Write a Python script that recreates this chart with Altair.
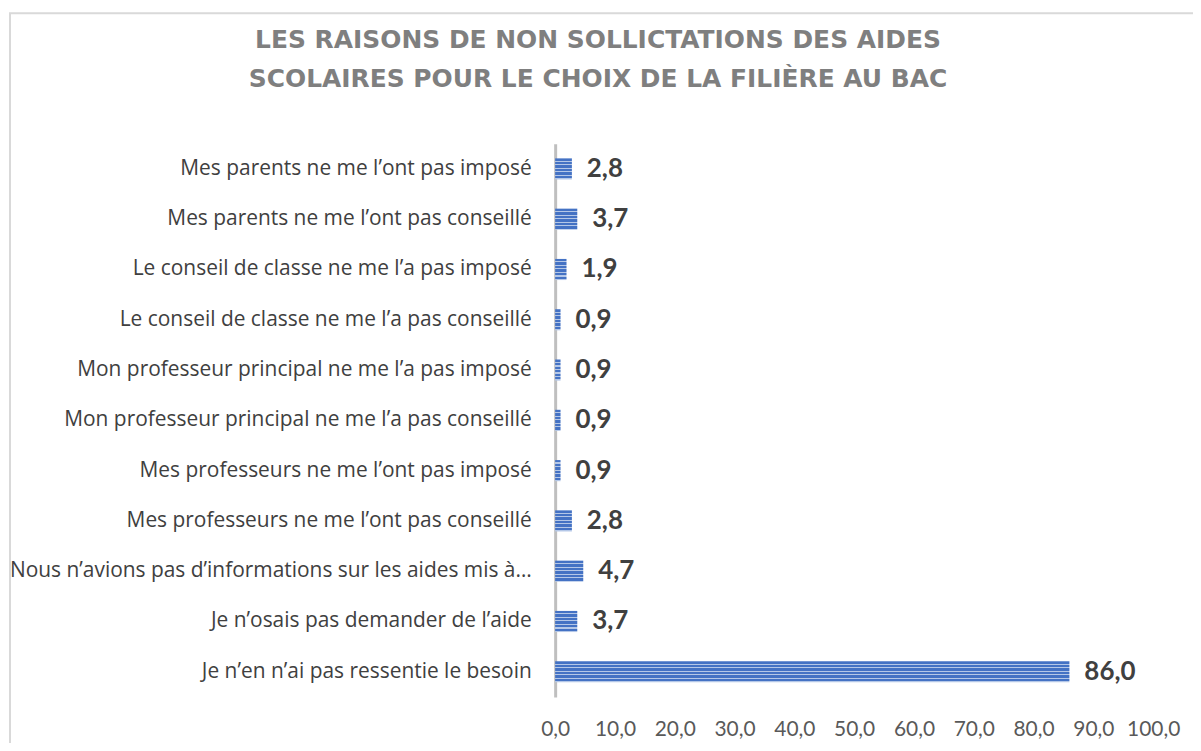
import altair as alt
import pandas as pd

categories = [
    "Mes parents ne me l’ont pas imposé",
    "Mes parents ne me l’ont pas conseillé",
    "Le conseil de classe ne me l’a pas imposé",
    "Le conseil de classe ne me l’a pas conseillé",
    "Mon professeur principal ne me l’a pas imposé",
    "Mon professeur principal ne me l’a pas conseillé\u00a0",
    "Mes professeurs ne me l’ont pas imposé",
    "Mes professeurs ne me l’ont pas conseillé",
    "Nous n’avions pas d’informations sur les aides mis à…",
    "Je n’osais pas demander de l’aide",
    "Je n’en n’ai pas ressentie le besoin",
]
values = [2.8, 3.7, 1.9, 0.9, 0.9, 0.9, 0.9, 2.8, 4.7, 3.7, 86.0]
x_ticks = [0, 10, 20, 30, 40, 50, 60, 70, 80, 90, 100]
title_lines = [
    "LES RAISONS DE NON SOLLICTATIONS DES AIDES",
    "SCOLAIRES POUR LE CHOIX DE LA FILIÈRE AU BAC",
]

df = pd.DataFrame({
    "cat": categories,
    "val": values,
    "lab": [f"{v:.1f}".replace(".", ",") for v in values],
})

FONT = "Lato"

# striped fill via a linear gradient with hard stops
dark, light = "#4472C4", "#B4C7E7"
n_stripes = 6
stops = []
for i in range(n_stripes):
    a = i / n_stripes
    b = (i + 0.68) / n_stripes
    c = (i + 1) / n_stripes
    stops += [
        {"offset": a, "color": dark},
        {"offset": b, "color": dark},
        {"offset": b, "color": light},
        {"offset": c, "color": light},
    ]
stripe = {"gradient": "linear", "x1": 0, "y1": 0, "x2": 0, "y2": 1, "stops": stops}

y_enc = alt.Y(
    "cat:N",
    sort=categories,
    title=None,
    scale=alt.Scale(paddingInner=0.58, paddingOuter=0.29),
    axis=alt.Axis(
        labelFont="Open Sans", labelFontSize=21, labelColor="#404040",
        labelPadding=24, labelLimit=700, ticks=False, tickSize=0,
        domainColor="#BFBFBF", domainWidth=3, grid=False,
    ),
)
x_enc = alt.X(
    "val:Q",
    title=None,
    scale=alt.Scale(domain=[0, 100], nice=False),
    axis=alt.Axis(
        values=x_ticks, labelExpr="replace(format(datum.value, '.1f'), '.', ',')",
        labelFont=FONT, labelFontSize=21, labelColor="#595959",
        labelPadding=22, ticks=False, tickSize=0, domain=False, grid=False,
        labelOverlap=False, labelFlush=False,
    ),
)

base = alt.Chart(df)

border = base.mark_rect(fill="transparent", stroke="#D9D9D9", strokeWidth=2).encode(
    x=alt.value(-547), x2=alt.value(800), y=alt.value(-131), y2=alt.value(800)
).transform_filter("datum.cat == '%s'" % categories[-1])

bars = base.mark_bar(color=stripe, strokeWidth=0).encode(x=x_enc, y=y_enc)

labels = base.mark_text(
    align="left", baseline="middle", dx=15, font=FONT, fontWeight="bold",
    fontSize=26, color="#404040",
).encode(x="val:Q", y=alt.Y("cat:N", sort=categories), text="lab:N")

chart = alt.layer(border, bars, labels).properties(
    width=600,
    height=555,
    autosize=alt.AutoSizeParams(type="none"),
    padding={"left": 549, "top": 135, "right": 40, "bottom": 45},
    background="white",
    title=alt.TitleParams(
        text=title_lines, anchor="middle", dx=-257, dy=135, offset=55,
        font="DejaVu Sans", fontSize=25, fontWeight="bold", color="#7F7F7F",
        lineHeight=39,
    ),
).configure_view(strokeWidth=0, stroke="transparent")

chart.save("out.html", embed_options={"renderer": "svg", "actions": False})
